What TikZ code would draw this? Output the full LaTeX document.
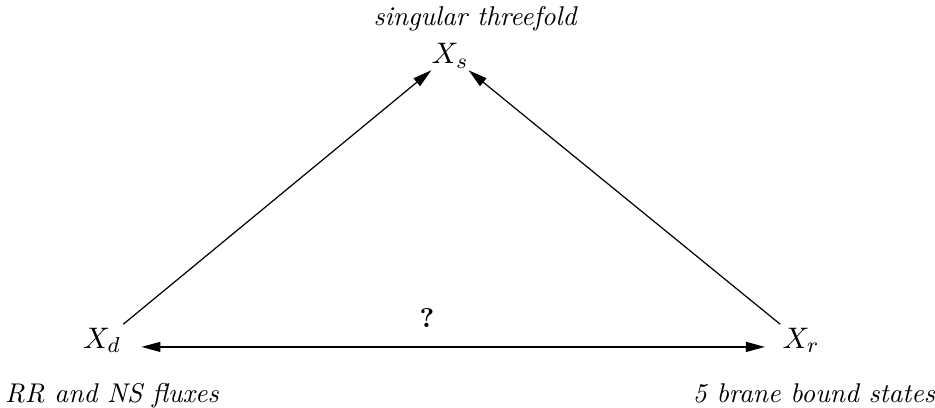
\documentclass[tikz,border=0pt]{standalone}
\usetikzlibrary{arrows.meta}
\begin{document}
\begin{tikzpicture}[x=0.369pt,y=-0.369pt,
  lab/.style={font=\itshape,anchor=base},
  obj/.style={inner sep=3pt,anchor=base,font=\fontsize{11.4}{14}\selectfont},
  tip/.tip={Triangle[length=7pt,width=3.7pt]},
  arr/.style={-tip,line width=0.45pt}]
\useasboundingbox (0,0) rectangle (935,408);
\node[lab] (tS) at (475,26) {singular threefold};
\node[obj] (Xs) at (450,64) {$X_s$};
\node[obj] (Xd) at (102,348) {$X_d$};
\node[obj] (Xr) at (801,348) {$X_r$};
\node[lab] (tD) at (112,402) {RR and NS fluxes};
\node[lab] (tR) at (814,402) {5 brane bound states};
\node[anchor=base] (q) at (427,327) {\textbf{?}};
\draw[arr,shorten <=-3pt,shorten >=-4pt] (Xd.north east) -- (Xs.south west);
\draw[arr,shorten <=-3pt,shorten >=-4pt] (Xr.north west) -- (Xs.south east);
\draw[tip-tip,line width=0.45pt,shorten <=4.4pt,shorten >=3.3pt] ([yshift=0.4pt]Xd.base east) -- ([yshift=0.4pt]Xr.base west);
\end{tikzpicture}
\end{document}
